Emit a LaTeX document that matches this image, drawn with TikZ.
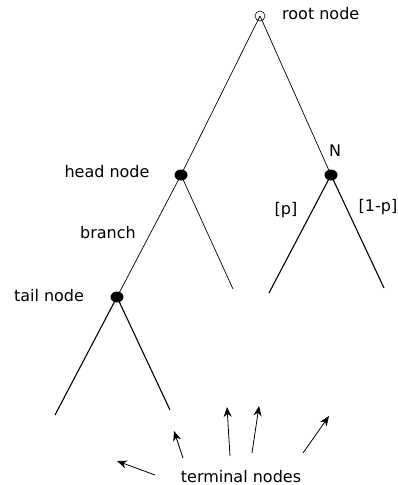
\documentclass[tikz,border=0pt]{standalone}
\usepackage{fontspec}
\setmainfont{DejaVu Sans}
\usetikzlibrary{shapes.geometric,arrows.meta}
\begin{document}
\begin{tikzpicture}[x=1pt,y=-1pt,
  dot/.style={ellipse,fill=black,minimum width=13pt,minimum height=11pt,inner sep=0pt},
  rootc/.style={circle,draw,line width=0.6pt,minimum size=10pt,inner sep=0pt},
  thin/.style={line width=0.7pt},
  thick/.style={line width=1.1pt},
  lbl/.style={font=\fontsize{16}{19}\selectfont,inner sep=0pt},
  arr/.style={line width=0.8pt,-{Stealth[length=10pt,width=8pt]}}]
\useasboundingbox (0,0) rectangle (398,485);
\node[rootc] (root) at (260,16) {};
\node[dot] (head) at (181,175) {};
\node[dot] (nn) at (331,175) {};
\node[dot] (tail) at (117,297) {};
\coordinate (hr) at (233,289);
\coordinate (nl) at (269,293);
\coordinate (nr) at (384,288);
\coordinate (tl) at (55,415);
\coordinate (tr) at (170,410);
\draw[thin] (root.center) -- (head.center);
\draw[thin] (root.center) -- (nn.center);
\draw[thin] (head.center) -- (tail.center);
\draw[thin] (head.center) -- (hr);
\draw[thick] (nn.center) -- (nl);
\draw[thick] (nn.center) -- (nr);
\draw[thick] (tail.center) -- (tl);
\draw[thick] (tail.center) -- (tr);
\node[lbl,anchor=west] (rootl) at (282,14) {root node};
\node[lbl] (headl) at (107,172) {head node};
\node[lbl] (branchl) at (108,233) {branch};
\node[lbl] (taill) at (49,296) {tail node};
\node[lbl] (nl2) at (335,151) {N};
\node[lbl] (pl) at (286,210) {[p]};
\node[lbl] (qpl) at (378,207) {[1-p]};
\node[lbl,anchor=base] (term) at (241,482) {terminal nodes};
\coordinate (a1s) at (155,475); \coordinate (a1e) at (117,461);
\coordinate (a2s) at (183,458); \coordinate (a2e) at (174,431);
\coordinate (a3s) at (230,456); \coordinate (a3e) at (227,407);
\coordinate (a4s) at (252,453); \coordinate (a4e) at (259,406);
\coordinate (a5s) at (303,453); \coordinate (a5e) at (329,416);
\draw[arr] (a1s) -- (a1e);
\draw[arr] (a2s) -- (a2e);
\draw[arr] (a3s) -- (a3e);
\draw[arr] (a4s) -- (a4e);
\draw[arr] (a5s) -- (a5e);
\end{tikzpicture}
\end{document}
